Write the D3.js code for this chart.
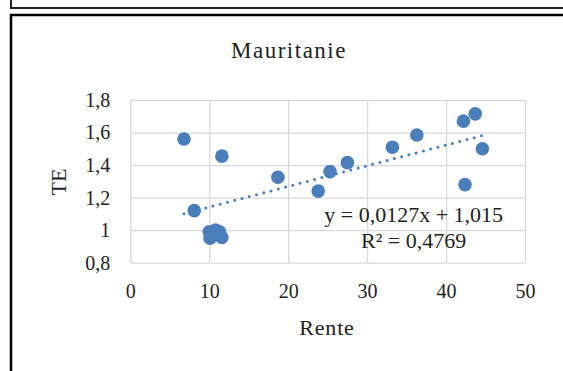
<!DOCTYPE html>
<html>
<head>
<meta charset="utf-8">
<script src="https://cdn.jsdelivr.net/npm/d3@7"></script>
<style>
  body { margin: 0; background: #fff; }
</style>
</head>
<body>
<div id="chart"></div>
<script>
// data
var rente = [6.8, 8.1, 11.6, 10.0, 10.1, 10.8, 11.3, 11.6, 18.7, 23.8, 25.3, 27.5, 33.2, 36.3, 42.2, 43.7, 44.6, 42.4];
var te    = [1.56, 1.12, 1.455, 0.99, 0.95, 1.0, 0.99, 0.955, 1.325, 1.24, 1.36, 1.415, 1.51, 1.585, 1.67, 1.715, 1.50, 1.28];
var xTicks = [0, 10, 20, 30, 40, 50];
var yTicks = [0.8, 1, 1.2, 1.4, 1.6, 1.8];
var slope = 0.0127, intercept = 1.015;
var eqLabel = "y = 0,0127x + 1,015";
var r2Label = "R² = 0,4769";

var FONT = "'Liberation Serif', 'DejaVu Serif', serif";
var W = 563, H = 371;
var margin = {top: 100, right: 38, bottom: 108.3, left: 130.3},
  width = W - margin.left - margin.right,
  height = H - margin.top - margin.bottom;

var root = d3.select("#chart")
.append("svg")
  .attr("width", W)
  .attr("height", H)
  .attr("font-family", FONT);

// outer frames
root.append("path")
  .attr("d", "M11,0 V8 H563")
  .attr("fill", "none").attr("stroke", "#222").attr("stroke-width", 2);
root.append("path")
  .attr("d", "M11,371 V15 H563")
  .attr("fill", "none").attr("stroke", "#000").attr("stroke-width", 2.5);

var svg = root.append("g")
  .attr("transform", "translate(" + margin.left + "," + margin.top + ")");

var x = d3.scaleLinear().domain([0, 50]).range([0, width]);
var y = d3.scaleLinear().domain([0.8, 1.8]).range([height, 0]);

var fmt = function(d) { return String(+d.toFixed(1)).replace(".", ","); };

// gridlines
svg.append("g")
  .call(d3.axisBottom(x).tickValues(xTicks).tickSize(height).tickFormat(""))
  .call(function(g) { g.select(".domain").remove(); })
  .selectAll("line").attr("stroke", "#d9d9d9").attr("stroke-width", 1.3);
svg.append("g")
  .call(d3.axisLeft(y).tickValues(yTicks).tickSize(-width).tickFormat(""))
  .call(function(g) { g.select(".domain").remove(); })
  .selectAll("line").attr("stroke", "#d9d9d9").attr("stroke-width", 1.3);

// tick labels
svg.append("g")
  .attr("transform", "translate(0," + height + ")")
  .call(d3.axisBottom(x).tickValues(xTicks).tickSize(0).tickPadding(21).tickFormat(fmt))
  .attr("font-family", FONT).attr("font-size", 20)
  .call(function(g) { g.select(".domain").remove(); })
  .selectAll("text").attr("fill", "#222");
svg.append("g")
  .call(d3.axisLeft(y).tickValues(yTicks).tickSize(0).tickPadding(20).tickFormat(fmt))
  .attr("font-family", FONT).attr("font-size", 20)
  .call(function(g) { g.select(".domain").remove(); })
  .selectAll("text").attr("fill", "#222");

// trendline
var xMin = d3.min(rente), xMax = d3.max(rente);
svg.append("line")
  .attr("x1", x(xMin)).attr("y1", y(slope * xMin + intercept))
  .attr("x2", x(xMax)).attr("y2", y(slope * xMax + intercept))
  .attr("stroke", "#4a7ebb")
  .attr("stroke-width", 3)
  .attr("stroke-linecap", "round")
  .attr("stroke-dasharray", "0 7.5");

// points
svg.selectAll(".pt")
  .data(rente)
  .enter()
  .append("circle")
    .attr("class", "pt")
    .attr("cx", function(d) { return x(d); })
    .attr("cy", function(d, i) { return y(te[i]); })
    .attr("r", 6.8)
    .attr("fill", "#4a7ebb");

// equation
svg.append("text")
  .attr("x", x(35.9)).attr("y", y(1.05))
  .attr("text-anchor", "middle").attr("font-size", 22).attr("fill", "#222")
  .text(eqLabel);
svg.append("text")
  .attr("x", x(35.9)).attr("y", y(0.89))
  .attr("text-anchor", "middle").attr("font-size", 22).attr("fill", "#222")
  .text(r2Label);

// titles
root.append("text")
  .attr("x", 289).attr("y", 58)
  .attr("text-anchor", "middle").attr("font-size", 23).attr("fill", "#222")
  .attr("letter-spacing", 1.5)
  .text("Mauritanie");
root.append("text")
  .attr("x", 327).attr("y", 335)
  .attr("text-anchor", "middle").attr("font-size", 22).attr("fill", "#222")
  .attr("letter-spacing", 0.8)
  .text("Rente");
root.append("text")
  .attr("transform", "translate(66,182) rotate(-90)")
  .attr("text-anchor", "middle").attr("font-size", 22).attr("fill", "#222")
  .text("TE");
</script>
</body>
</html>
